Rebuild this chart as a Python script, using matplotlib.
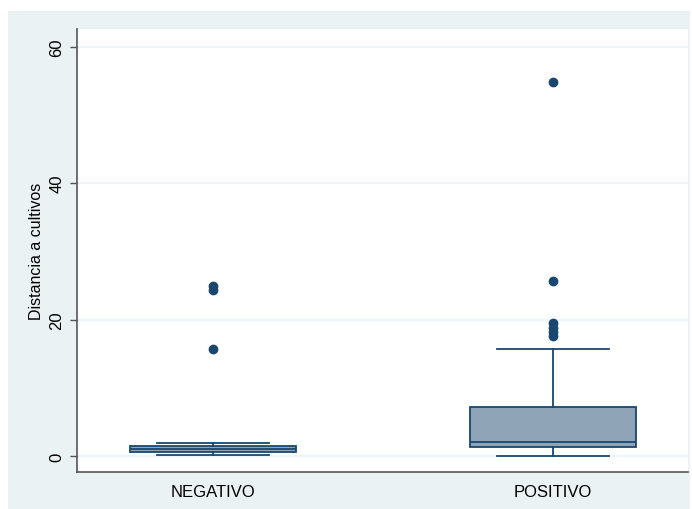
import matplotlib
matplotlib.use("Agg")
import matplotlib.pyplot as plt
from matplotlib.patches import Rectangle

plt.rcParams['font.family'] = ['Liberation Sans', 'DejaVu Sans']

categories = ["NEGATIVO", "POSITIVO"]
whislo = [0.15, 0.0]
q1 = [0.6, 1.3]
med = [1.0, 2.05]
q3 = [1.5, 7.2]
whishi = [1.9, 15.7]
outliers = [[24.9, 24.4, 15.7], [54.8, 25.7, 19.5, 18.8, 18.2, 17.6]]
yticks = [0, 20, 40, 60]
ylabel = "Distancia a cultivos"

navy = "#1a476f"
fill = "#90a4b8"
bg = "#eaf2f3"

fig = plt.figure(figsize=(6.92, 5.10), dpi=100)
fig.patch.set_facecolor("white")
fig.add_artist(Rectangle((8/692, 0), (690-8)/692, (510-12)/510,
                         transform=fig.transFigure, facecolor=bg,
                         edgecolor="none", zorder=0))
ax = fig.add_axes([77/692, 37/510, 611/692, 443/510])
ax.set_facecolor("white")

stats = []
for i, c in enumerate(categories):
    stats.append(dict(label=c, whislo=whislo[i], q1=q1[i], med=med[i],
                      q3=q3[i], whishi=whishi[i], fliers=outliers[i]))

ax.bxp(stats, positions=[1, 2], widths=0.49, patch_artist=True,
       showfliers=True,
       boxprops=dict(facecolor=fill, edgecolor=navy, linewidth=1.3),
       medianprops=dict(color=navy, linewidth=1.3),
       whiskerprops=dict(color=navy, linewidth=1.3),
       capprops=dict(color=navy, linewidth=1.3),
       capwidths=0.33,
       flierprops=dict(marker="o", markerfacecolor=navy, markeredgecolor=navy,
                       markersize=6, linestyle="none"))

ax.set_xlim(0.6, 2.397)
ax.set_ylim(-2.35, 62.6)
ax.set_yticks(yticks)
ax.set_yticklabels([str(t) for t in yticks], rotation=90, va="center",
                   fontsize=12)
ax.yaxis.grid(True, color=bg, linewidth=1.2, zorder=0)
ax.set_axisbelow(True)
ax.tick_params(axis="y", length=5, width=1, color="#555555", pad=4)
ax.tick_params(axis="x", length=0, labelsize=12, pad=9)
ax.set_ylabel(ylabel, fontsize=11.5, labelpad=4)
for s in ["top", "right"]:
    ax.spines[s].set_visible(False)
for s in ["left", "bottom"]:
    ax.spines[s].set_color("#555555")
    ax.spines[s].set_linewidth(1.2)

fig.savefig("out.png", dpi=100)
